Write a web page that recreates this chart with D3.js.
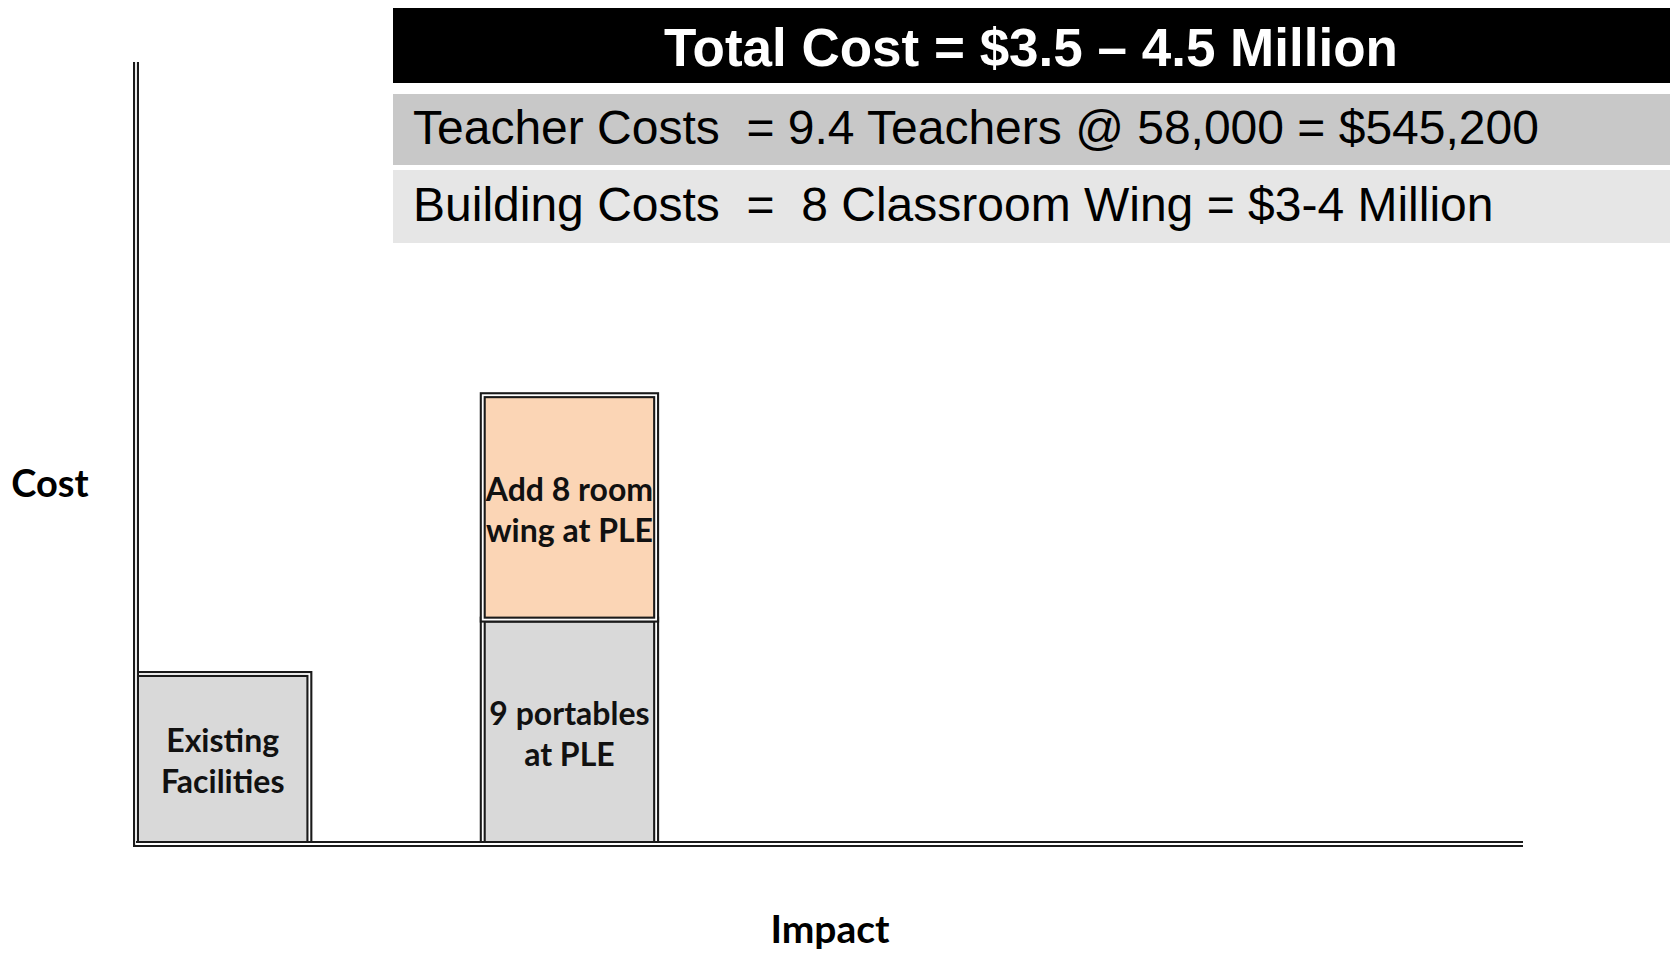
<!DOCTYPE html>
<html>
<head>
<meta charset="utf-8">
<script src="https://cdn.jsdelivr.net/npm/d3@7"></script>
<style>
  html, body { margin: 0; padding: 0; background: #fff; }
  svg { display: block; }
  text { white-space: pre; }
</style>
</head>
<body>
<svg id="chart"></svg>
<script>
(function () {
  const width = 1676;
  const height = 959;

  // cost (arbitrary units) by impact position
  const barLabels = [['Existing', 'Facilities'], ['9 portables', 'at PLE'], ['Add 8 room', 'wing at PLE']];
  const barImpactStart = [0, 2, 2];
  const barImpactEnd = [1, 3, 3];
  const barBase = [0, 0, 1.32];
  const barCost = [1.0, 1.32, 1.32];
  const barFill = ['#d9d9d9', '#d9d9d9', '#fbd5b5'];

  const summaryLines = [
    'Total Cost = $3.5 \u2013 4.5 Million',
    'Teacher Costs  = 9.4 Teachers @ 58,000 = $545,200',
    'Building Costs  =  8 Classroom Wing = $3-4 Million'
  ];
  const summaryFill = ['#000000', '#c8c8c8', '#e6e6e6'];

  const svg = d3.select('#chart').attr('width', width).attr('height', height);

  const x = d3.scaleLinear().domain([0, 8]).range([136, 1523]);
  const y = d3.scaleLinear().domain([0, 4.6]).range([844, 62]);

  const labelFont = 'Lato, "Open Sans", sans-serif';

  // double rule: wide dark stroke with a thin white one on top
  function doubleStroke(parent, make) {
    make(parent).attr('fill', 'none').attr('stroke', '#1a1a1a').attr('stroke-width', 6);
    make(parent).attr('fill', 'none').attr('stroke', '#ffffff').attr('stroke-width', 1.8);
  }

  // bars
  const bars = svg.append('g').attr('class', 'bars');
  barLabels.forEach((lbl, i) => {
    const x0 = x(barImpactStart[i]);
    const x1 = x(barImpactEnd[i]);
    const yTop = y(barBase[i] + barCost[i]);
    const yBot = y(barBase[i]);
    const g = bars.append('g');
    g.append('rect')
      .attr('x', x0).attr('y', yTop)
      .attr('width', x1 - x0).attr('height', yBot - yTop)
      .attr('fill', barFill[i]);
    doubleStroke(g, (p) => p.append('rect')
      .attr('x', x0).attr('y', yTop)
      .attr('width', x1 - x0).attr('height', yBot - yTop));
    const cx = (x0 + x1) / 2;
    const cy = (yTop + yBot) / 2;
    g.append('text')
      .attr('x', cx).attr('y', cy - 15)
      .attr('text-anchor', 'middle')
      .attr('font-family', labelFont).attr('font-weight', 'bold')
      .attr('font-size', 32).attr('fill', '#111')
      .selectAll('tspan')
      .data(lbl)
      .join('tspan')
      .attr('x', cx)
      .attr('dy', (d, j) => (j === 0 ? 0 : 41))
      .attr('dominant-baseline', 'middle')
      .text((d) => d);
  });

  // axes
  const axes = svg.append('g').attr('class', 'axes');
  doubleStroke(axes, (p) => p.append('line')
    .attr('x1', x(0)).attr('x2', x(0))
    .attr('y1', y(4.6)).attr('y2', y(0)));
  doubleStroke(axes, (p) => p.append('line')
    .attr('x1', x(0)).attr('x2', x(8))
    .attr('y1', y(0)).attr('y2', y(0)));

  svg.append('text')
    .attr('x', 50).attr('y', 487)
    .attr('text-anchor', 'middle').attr('dominant-baseline', 'middle')
    .attr('font-family', labelFont).attr('font-weight', 'bold')
    .attr('font-size', 38).attr('fill', '#000')
    .text('Cost');

  svg.append('text')
    .attr('x', 830).attr('y', 933)
    .attr('text-anchor', 'middle').attr('dominant-baseline', 'middle')
    .attr('font-family', labelFont).attr('font-weight', 'bold')
    .attr('font-size', 39).attr('fill', '#000')
    .text('Impact');

  // summary boxes
  const boxTop = [8, 94, 170];
  const boxH = [75, 71, 73];
  const box = svg.append('g').attr('class', 'summary');
  summaryLines.forEach((t, i) => {
    box.append('rect')
      .attr('x', 393).attr('y', boxTop[i])
      .attr('width', 1277).attr('height', boxH[i])
      .attr('fill', summaryFill[i]);
    const txt = box.append('text')
      .attr('y', boxTop[i] + boxH[i] / 2 + 2)
      .attr('dominant-baseline', 'middle')
      .attr('font-family', '"Liberation Sans", Arial, sans-serif')
      .text(t);
    if (i === 0) {
      txt.attr('x', 1031).attr('y', boxTop[i] + boxH[i] / 2 + 6).attr('text-anchor', 'middle')
        .attr('font-weight', 'bold').attr('font-size', 53).attr('fill', '#fff');
    } else {
      txt.attr('x', 413).attr('font-size', 48).attr('fill', '#000');
    }
  });
})();
</script>
</body>
</html>
